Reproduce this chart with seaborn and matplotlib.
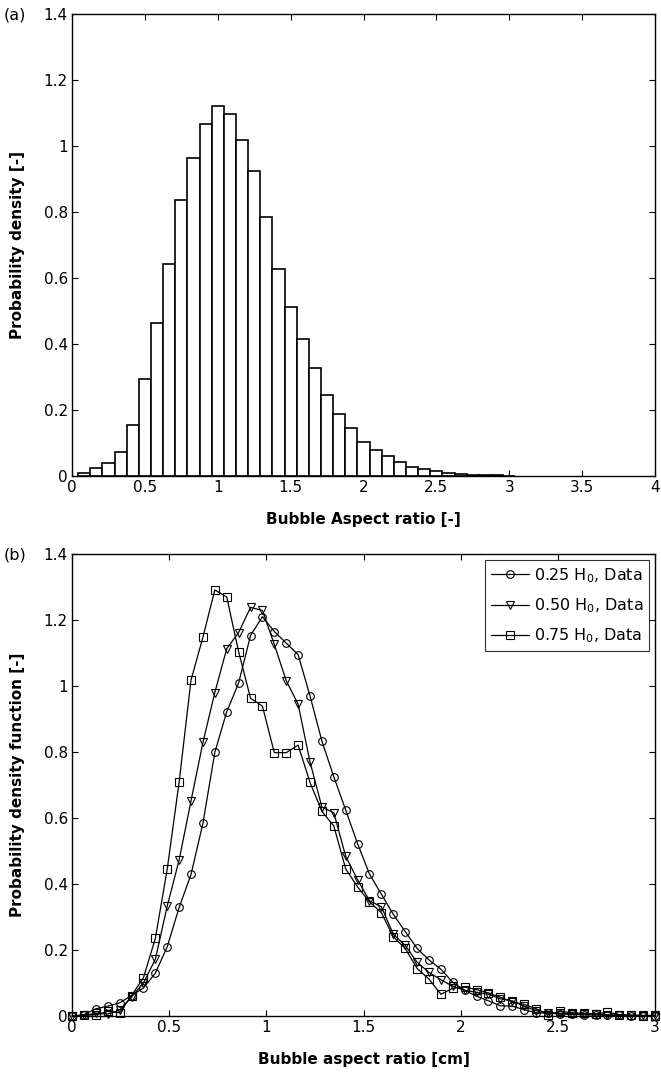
import numpy as np
import pandas as pd
import matplotlib
matplotlib.use("Agg")
import matplotlib.pyplot as plt
from matplotlib.ticker import FuncFormatter
import seaborn as sns

# ---- (a) histogram of bubble aspect ratio: bins of width 1/12 centred on k/12 ----
bin_width = 1.0 / 12.0
hist_density = [0.010, 0.023, 0.038, 0.073, 0.155, 0.293, 0.463, 0.641,
                0.836, 0.963, 1.067, 1.121, 1.097, 1.018, 0.925, 0.784,
                0.626, 0.513, 0.414, 0.326, 0.245, 0.188, 0.146, 0.103,
                0.078, 0.061, 0.041, 0.027, 0.020, 0.015, 0.009, 0.006,
                0.004, 0.003, 0.002, 0.001]
hist_centers = [(k + 1) * bin_width for k in range(len(hist_density))]

# ---- (b) probability density at three heights ----
ratio_grid = np.linspace(0.0, 3.0, 50)
pdf_025 = [0.000, 0.004, 0.022, 0.030, 0.040, 0.062, 0.085, 0.130, 0.210, 0.329,
           0.429, 0.584, 0.799, 0.922, 1.009, 1.153, 1.210, 1.165, 1.130, 1.095,
           0.970, 0.833, 0.725, 0.624, 0.522, 0.430, 0.369, 0.308, 0.256, 0.205,
           0.170, 0.142, 0.102, 0.078, 0.060, 0.046, 0.031, 0.030, 0.019, 0.010,
           0.009, 0.006, 0.005, 0.004, 0.003, 0.002, 0.002, 0.001, 0.001, 0.000]
pdf_050 = [0.000, 0.002, 0.008, 0.006, 0.018, 0.058, 0.100, 0.172, 0.333, 0.473,
           0.652, 0.829, 0.980, 1.113, 1.162, 1.238, 1.229, 1.126, 1.016, 0.945,
           0.770, 0.633, 0.616, 0.484, 0.413, 0.349, 0.331, 0.248, 0.214, 0.163,
           0.132, 0.110, 0.090, 0.078, 0.072, 0.066, 0.052, 0.046, 0.030, 0.016,
           0.010, 0.008, 0.007, 0.006, 0.006, 0.004, 0.003, 0.003, 0.002, 0.002]
pdf_075 = [0.000, 0.002, 0.004, 0.014, 0.010, 0.062, 0.116, 0.235, 0.445, 0.709,
           1.018, 1.148, 1.291, 1.270, 1.104, 0.963, 0.939, 0.798, 0.798, 0.821,
           0.708, 0.620, 0.576, 0.446, 0.391, 0.346, 0.313, 0.240, 0.205, 0.144,
           0.112, 0.066, 0.084, 0.088, 0.080, 0.070, 0.057, 0.043, 0.035, 0.022,
           0.004, 0.014, 0.010, 0.008, 0.006, 0.012, 0.004, 0.002, 0.001, 0.000]
series_labels = [r"0.25 H$_0$, Data", r"0.50 H$_0$, Data", r"0.75 H$_0$, Data"]
series_markers = ["o", "v", "s"]

sns.set_style("ticks")
plt.rcParams["font.family"] = ["DejaVu Sans"]
plt.rcParams["mathtext.fontset"] = "dejavusans"
plt.rcParams["font.size"] = 11
plt.rcParams["axes.linewidth"] = 1.0
plt.rcParams["text.color"] = "black"
plt.rcParams["axes.labelcolor"] = "black"
plt.rcParams["xtick.color"] = "black"
plt.rcParams["ytick.color"] = "black"

fig = plt.figure(figsize=(6.61, 10.73), dpi=100)
ax_a = fig.add_axes([0.109, 0.5564, 0.882, 0.4306])
ax_b = fig.add_axes([0.109, 0.0531, 0.882, 0.4306])


def matlab_axes(ax):
    ax.tick_params(direction="in", length=4.5, width=0.8, top=True, right=True,
                   labelsize=11, colors="black", pad=3)
    for sp in ax.spines.values():
        sp.set_visible(True)
        sp.set_color("black")
        sp.set_linewidth(1.0)
    ax.yaxis.set_major_formatter(FuncFormatter(lambda v, p: f"{v:g}"))
    ax.xaxis.set_major_formatter(FuncFormatter(lambda v, p: f"{v:g}"))
    ax.yaxis.set_label_coords(-0.08, 0.5)
    ax.xaxis.set_label_coords(0.5, -0.077)


# (a) histogram drawn from the bin densities as weights
hist_df = pd.DataFrame({"ratio": hist_centers, "density": hist_density})
n_bins = len(hist_density)
sns.histplot(data=hist_df, x="ratio", weights="density", bins=n_bins,
             binrange=(0.5 * bin_width, (n_bins + 0.5) * bin_width), stat="count",
             ax=ax_a, color="white", edgecolor="black", linewidth=1.2, alpha=1.0)
ax_a.set_xlim(0, 4)
ax_a.set_ylim(0, 1.4)
ax_a.set_xticks(np.arange(0, 4.01, 0.5))
ax_a.set_yticks(np.arange(0, 1.41, 0.2))
matlab_axes(ax_a)
ax_a.set_xlabel("Bubble Aspect ratio [-]", fontweight="bold", fontsize=11)
ax_a.set_ylabel("Probability density [-]", fontweight="bold", fontsize=11)

# (b) line + marker curves
for vals, lab, mk in zip([pdf_025, pdf_050, pdf_075], series_labels, series_markers):
    df = pd.DataFrame({"ratio": ratio_grid, "pdf": vals})
    sns.lineplot(data=df, x="ratio", y="pdf", ax=ax_b, color="black", linewidth=0.9,
                 marker=mk, markersize=5.5, markerfacecolor="none",
                 markeredgecolor="black", markeredgewidth=0.8, label=lab,
                 clip_on=False, zorder=3)
ax_b.set_xlim(0, 3)
ax_b.set_ylim(0, 1.4)
ax_b.set_xticks(np.arange(0, 3.01, 0.5))
ax_b.set_yticks(np.arange(0, 1.41, 0.2))
matlab_axes(ax_b)
ax_b.set_xlabel("Bubble aspect ratio [cm]", fontweight="bold", fontsize=11)
ax_b.set_ylabel("Probability density function [-]", fontweight="bold", fontsize=11)
leg = ax_b.legend(loc="upper right", fontsize=11.5, frameon=True, fancybox=False,
                  edgecolor="black", handlelength=2.4, handletextpad=0.3,
                  borderpad=0.35, labelspacing=0.72, borderaxespad=0.4)
leg.get_frame().set_linewidth(0.8)

fig.text(0.006, 1 - 19 / 1073, "(a)", fontsize=11.5, ha="left", va="baseline")
fig.text(0.006, 1 - 559 / 1073, "(b)", fontsize=11.5, ha="left", va="baseline")

fig.savefig("out.png", dpi=100)
